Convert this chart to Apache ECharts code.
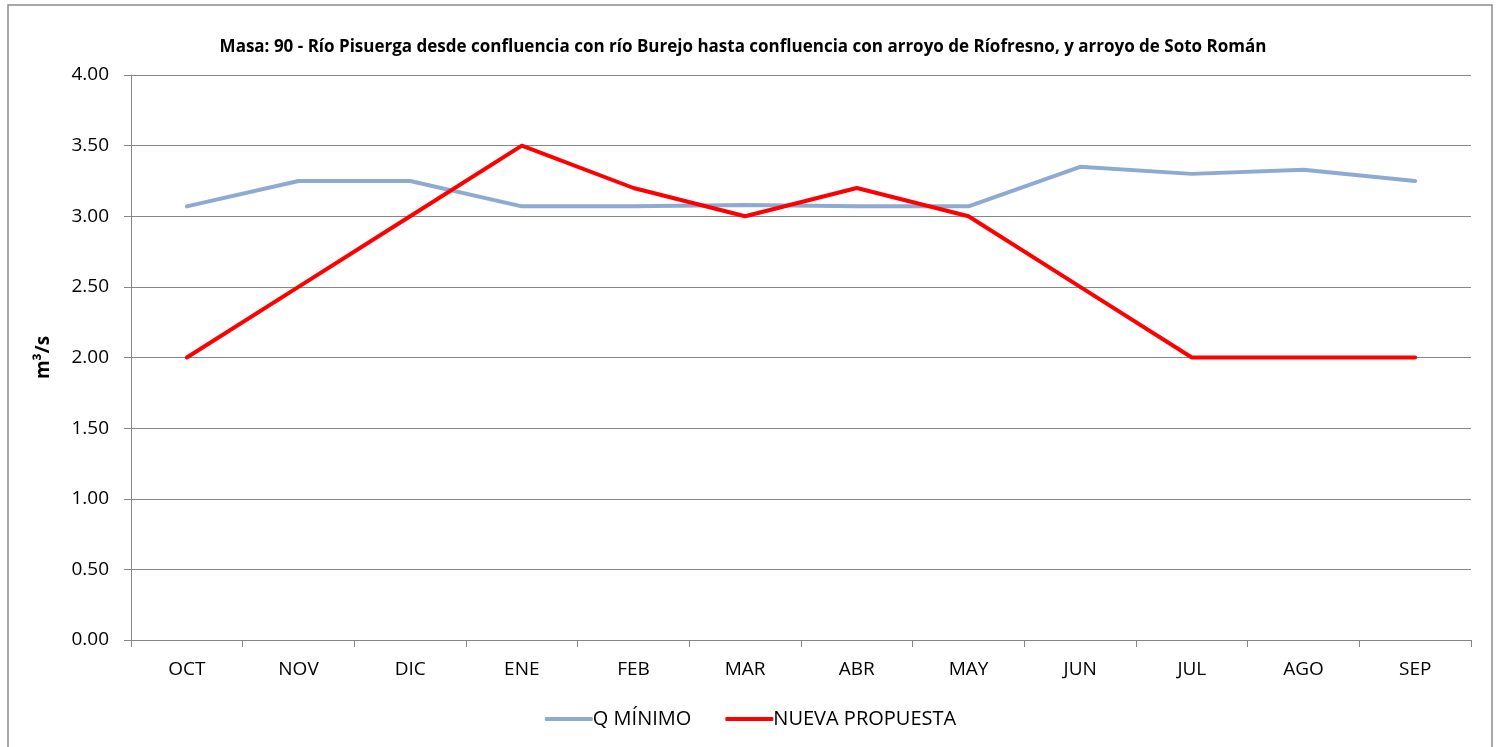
<!DOCTYPE html>
<html>
<head>
<meta charset="utf-8">
<style>
  html, body { margin: 0; padding: 0; background: #ffffff; }
  #chart { width: 1501px; height: 747px; }
</style>
<script src="https://cdn.jsdelivr.net/npm/echarts@6/dist/echarts.min.js"></script>
</head>
<body>
<div id="chart"></div>
<script>
const months = ['OCT', 'NOV', 'DIC', 'ENE', 'FEB', 'MAR', 'ABR', 'MAY', 'JUN', 'JUL', 'AGO', 'SEP'];
const qMinimo = [3.07, 3.25, 3.25, 3.07, 3.07, 3.08, 3.07, 3.07, 3.35, 3.30, 3.33, 3.25];
const nuevaPropuesta = [2.0, 2.5, 3.0, 3.5, 3.2, 3.0, 3.2, 3.0, 2.5, 2.0, 2.0, 2.0];
const titleText = 'Masa: 90 - Río Pisuerga desde confluencia con río Burejo hasta confluencia con arroyo de Ríofresno, y arroyo de Soto Román';

const font = 'Open Sans, Noto Sans, sans-serif';
const chart = echarts.init(document.getElementById('chart'), null, { renderer: 'canvas' });

chart.setOption({
  animation: false,
  backgroundColor: '#ffffff',
  graphic: [{
    type: 'rect',
    shape: { x: 8, y: 5, width: 1484, height: 760 },
    style: { fill: 'none', stroke: '#8c8c8c', lineWidth: 1.5 },
    silent: true
  }],
  title: {
    text: titleText,
    left: 738, top: 34, textAlign: 'center',
    textStyle: { fontFamily: font, fontSize: 17, fontWeight: 'bold', color: '#000' }
  },
  legend: {
    bottom: 13, left: 'center',
    itemWidth: 48, itemHeight: 4, itemGap: 34,
    icon: 'roundRect',
    textStyle: { fontFamily: font, fontSize: 20, color: '#000', padding: [0, 0, 0, -5] },
    data: ['Q MÍNIMO', 'NUEVA PROPUESTA']
  },
  grid: { left: 131, right: 30, top: 75, bottom: 107 },
  xAxis: {
    type: 'category',
    data: months,
    boundaryGap: true,
    axisLine: { lineStyle: { color: '#868686', width: 1 } },
    axisTick: { show: true, length: 7, lineStyle: { color: '#868686' } },
    axisLabel: { fontFamily: font, fontSize: 19, color: '#000', margin: 20 }
  },
  yAxis: {
    type: 'value',
    min: 0, max: 4, interval: 0.5,
    name: 'm³/s',
    nameLocation: 'middle',
    nameGap: 78,
    nameTextStyle: { fontFamily: font, fontSize: 19, fontWeight: 'bold', color: '#000' },
    axisLine: { show: true, lineStyle: { color: '#868686', width: 1 } },
    axisTick: { show: true, length: 7, lineStyle: { color: '#868686' } },
    axisLabel: { fontFamily: font, fontSize: 19, color: '#000', margin: 22, formatter: v => v.toFixed(2) },
    splitLine: { lineStyle: { color: '#868686', width: 1 } }
  },
  series: [
    {
      name: 'Q MÍNIMO', type: 'line', data: qMinimo,
      symbol: 'none', color: '#8eaad2',
      lineStyle: { width: 4, color: '#8eaad2', cap: 'round' }
    },
    {
      name: 'NUEVA PROPUESTA', type: 'line', data: nuevaPropuesta,
      symbol: 'none', color: '#ff0000',
      lineStyle: { width: 4, color: '#ff0000', cap: 'round' }
    }
  ]
});
</script>
</body>
</html>
